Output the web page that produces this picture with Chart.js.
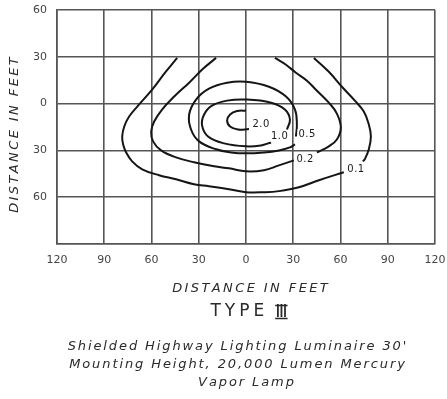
<!DOCTYPE html>
<html><head><meta charset="utf-8">
<script src="https://cdn.jsdelivr.net/npm/chart.js@4/dist/chart.umd.min.js"></script>
<style>html,body{margin:0;padding:0;background:#fff;}</style>
</head><body>
<canvas id="c" width="447" height="399"></canvas>
<script>
// ---- data (feet) ----
const xTickValues = [-120, -90, -60, -30, 0, 30, 60, 90, 120];
const xTickLabels = ['120', '90', '60', '30', '0', '30', '60', '90', '120'];
const yTickValues = [60, 30, 0, -30, -60, -90];
const yTickLabels = ['60', '30', '0', '30', '60', ''];

const contour20 = [
  {x: 0, y: -4.5}, {x: -5.7, y: -4.8}, {x: -10.1, y: -7}, {x: -12, y: -10.8},
  {x: -10.1, y: -14.7}, {x: -5.1, y: -16.6}, {x: 1.9, y: -16.3}
];
const contour10 = [
  {x: 26, y: -16.6}, {x: 27.9, y: -10.2}, {x: 24.7, y: -3.8}, {x: 15.9, y: 0.6},
  {x: 0, y: 2.6}, {x: -12, y: 1.9}, {x: -21.6, y: -1.3}, {x: -26.6, y: -7},
  {x: -27.9, y: -14}, {x: -24.1, y: -21.1}, {x: -13.9, y: -25.5}, {x: 0, y: -27.4},
  {x: 9.5, y: -26.8}, {x: 15.9, y: -24.9}
];
const contour05 = [
  {x: 31.7, y: -21.1}, {x: 32.3, y: -13.4}, {x: 31.1, y: -3.8}, {x: 25.4, y: 4.5},
  {x: 14.6, y: 10.8}, {x: 0, y: 14}, {x: -12, y: 13.4}, {x: -23.5, y: 9.6},
  {x: -31.7, y: 2.6}, {x: -36.1, y: -7}, {x: -34.9, y: -16.6}, {x: -29.8, y: -24.2},
  {x: -19, y: -29.3}, {x: -9.5, y: -31.3}, {x: 0, y: -31.9}, {x: 11.4, y: -31.3},
  {x: 20.9, y: -30}, {x: 27.9, y: -28.1}, {x: 31.1, y: -26.2}
];
const contour02Left = [
  {x: -19, y: 29.3}, {x: -27.3, y: 22.3}, {x: -36.1, y: 13.4}, {x: -45.6, y: 4.5},
  {x: -53.3, y: -3.8}, {x: -58.3, y: -11.5}, {x: -60.2, y: -17.9}, {x: -59, y: -24.2},
  {x: -53.9, y: -30}, {x: -44.4, y: -34.5}, {x: -33, y: -37.6}, {x: -20.3, y: -40.2},
  {x: -10.8, y: -41.5}, {x: 0, y: -43.4}, {x: 11.4, y: -42.7}, {x: 20.9, y: -39.6},
  {x: 30.4, y: -36.4}
];
const contour02Right = [
  {x: 45, y: -31.3}, {x: 52.6, y: -27.4}, {x: 57.7, y: -23}, {x: 60.2, y: -15.3},
  {x: 57.7, y: -6.4}, {x: 52.6, y: 0.6}, {x: 44.4, y: 8.9}, {x: 38.7, y: 14.7},
  {x: 31.7, y: 19.8}, {x: 25.4, y: 24.9}, {x: 18.4, y: 29.3}
];
const contour01Left = [
  {x: -43.7, y: 29.3}, {x: -51.4, y: 19.8}, {x: -59.6, y: 8.9}, {x: -68.5, y: -1.3},
  {x: -74.2, y: -8.3}, {x: -77.3, y: -14.7}, {x: -78.6, y: -21.1}, {x: -78, y: -26.2},
  {x: -76.1, y: -31.3}, {x: -72.3, y: -37}, {x: -65.9, y: -42.1}, {x: -55.2, y: -45.9},
  {x: -44.4, y: -48.5}, {x: -33, y: -51.7}, {x: -23.5, y: -53}, {x: -10.8, y: -54.9},
  {x: 0, y: -56.8}, {x: 11.4, y: -56.8}, {x: 20.9, y: -56.1}, {x: 33.6, y: -53.6},
  {x: 46.3, y: -49.1}, {x: 62.1, y: -44}
];
const contour01Right = [
  {x: 74.2, y: -37}, {x: 75.4, y: -35.7}, {x: 78, y: -29.3}, {x: 79.3, y: -21.1},
  {x: 78, y: -13.4}, {x: 74.8, y: -5.1}, {x: 69.1, y: 1.9}, {x: 60.9, y: 10.8},
  {x: 52.6, y: 20.4}, {x: 43.1, y: 29.3}
];

const contourLevels = ['2.0', '1.0', '0.5', '0.2', '0.1'];
const levelLabelX = [9.5, 21.2, 38.7, 37.4, 69.7];
const levelLabelY = [-13.1, -21.1, -19.5, -35.7, -42.1];

const xTitle = 'DISTANCE IN FEET';
const yTitle = 'DISTANCE IN FEET';
const typeWord = 'TYPE';
const typeNumeral = '\u2162';
const captionLines = [
  "Shielded Highway Lighting Luminaire 30'",
  'Mounting Height, 20,000 Lumen Mercury',
  'Vapor Lamp'
];

// ---- chart ----
const FONT = "'DejaVu Sans', sans-serif";
const segments = [contour20, contour10, contour05, contour02Left, contour02Right, contour01Left, contour01Right];
const datasets = segments.map(seg => ({
  data: seg, showLine: true, borderColor: '#151515', borderWidth: 2,
  pointRadius: 0, tension: 0.4, fill: false
}));

// draw text char by char with a fixed extra spacing, centred on (cx, cy)
function spacedWidth(c, text, sp) {
  let w = 0;
  for (const ch of text) w += c.measureText(ch).width;
  return w + sp * (Array.from(text).length - 1);
}
function drawSpaced(c, text, cx, cy, sp, rot) {
  const w = spacedWidth(c, text, sp);
  c.save();
  c.translate(cx, cy);
  if (rot) c.rotate(rot);
  c.textAlign = 'left'; c.textBaseline = 'middle';
  let x = -w / 2;
  for (const ch of text) { c.fillText(ch, x, 0); x += c.measureText(ch).width + sp; }
  c.restore();
  return w;
}

const whiteBg = {
  id: 'whiteBg',
  beforeDraw(chart) {
    const c = chart.ctx;
    c.save(); c.fillStyle = '#fff'; c.fillRect(0, 0, chart.width, chart.height); c.restore();
  }
};

const textPlugin = {
  id: 'texts',
  afterDatasetsDraw(chart) {
    const c = chart.ctx, xs = chart.scales.x, ys = chart.scales.y;
    c.save();
    c.font = '10px ' + FONT;
    contourLevels.forEach((t, i) => {
      const px = xs.getPixelForValue(levelLabelX[i]);
      const py = ys.getPixelForValue(levelLabelY[i]);
      const w = spacedWidth(c, t, 0.5);
      c.fillStyle = '#fff';
      c.fillRect(px - w / 2 - 1, py - 5, w + 2, 10);
      c.fillStyle = '#1a1a1a';
      drawSpaced(c, t, px, py, 0.5, 0);
    });
    c.restore();
  },
  afterDraw(chart) {
    const c = chart.ctx;
    c.save();
    c.fillStyle = '#2a2a2a';
    // axis titles
    c.font = 'italic 13px ' + FONT;
    drawSpaced(c, xTitle, 250, 289, 2.4, 0);
    drawSpaced(c, yTitle, 15, 135, 2.4, -Math.PI / 2);
    // TYPE III
    c.font = '17px ' + FONT;
    const sp = 4;
    const wT = spacedWidth(c, typeWord, sp);
    c.font = '18px ' + FONT;
    const wN = c.measureText(typeNumeral).width;
    const gap = 11;
    const total = wT + gap + wN;
    const x0 = 249 - total / 2;
    c.font = '17px ' + FONT;
    drawSpaced(c, typeWord, x0 + wT / 2, 312, sp, 0);
    c.font = '18px ' + FONT;
    c.textAlign = 'left'; c.textBaseline = 'middle';
    const nx = x0 + wT + gap;
    c.fillText(typeNumeral, nx, 312);
    c.strokeStyle = '#2a2a2a'; c.lineWidth = 1.3;
    c.beginPath();
    c.moveTo(nx, 305.5); c.lineTo(nx + wN, 305.5);
    c.moveTo(nx, 318.5); c.lineTo(nx + wN, 318.5);
    c.stroke();
    // caption
    c.font = 'italic 13px ' + FONT;
    const cy = [347, 365, 383];
    const cx = [237, 237, 246];
    captionLines.forEach((t, i) => drawSpaced(c, t, cx[i], cy[i], 1.9, 0));
    c.restore();
  }
};

new Chart(document.getElementById('c'), {
  type: 'scatter',
  data: { datasets },
  plugins: [whiteBg, textPlugin],
  options: {
    responsive: false,
    animation: false,
    layout: { padding: { left: 0, right: 12, top: 10, bottom: 95 } },
    plugins: { legend: { display: false }, tooltip: { enabled: false } },
    scales: {
      x: {
        type: 'linear', min: -120, max: 120,
        afterFit: s => { s.height = 60; s.paddingLeft = 0; s.paddingRight = 0; },
        afterBuildTicks: s => { s.ticks = xTickValues.map(v => ({ value: v })); },
        ticks: {
          color: '#444', font: { family: FONT, size: 11 }, padding: 10, maxRotation: 0,
          callback: v => { const i = xTickValues.indexOf(v); return i >= 0 ? xTickLabels[i] : ''; }
        },
        grid: { color: '#555', lineWidth: 1.6, drawTicks: false },
        border: { color: '#555', width: 1.6 },
        title: { display: false }
      },
      y: {
        type: 'linear', min: -90, max: 60,
        afterFit: s => { s.width = 57; s.paddingTop = 0; s.paddingBottom = 0; },
        afterBuildTicks: s => { s.ticks = yTickValues.map(v => ({ value: v })); },
        ticks: {
          color: '#444', font: { family: FONT, size: 11 }, padding: 10,
          callback: v => { const i = yTickValues.indexOf(v); return i >= 0 ? yTickLabels[i] : ''; }
        },
        grid: { color: '#555', lineWidth: 1.6, drawTicks: false },
        border: { color: '#555', width: 1.6 },
        title: { display: false }
      }
    }
  }
});
</script>
</body></html>
